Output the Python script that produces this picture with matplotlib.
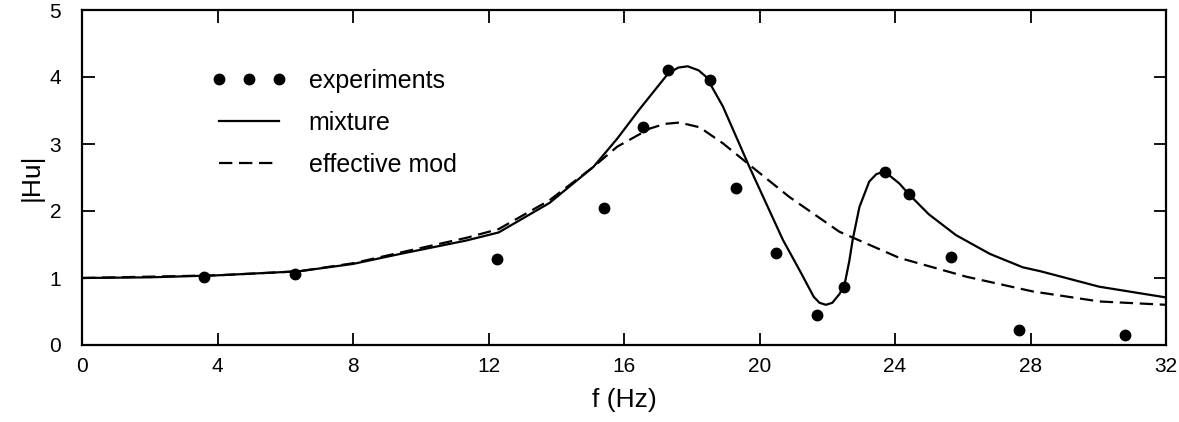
import numpy as np
import matplotlib
matplotlib.use("Agg")
import matplotlib.pyplot as plt

plt.rcParams['font.family'] = ['Liberation Sans', 'DejaVu Sans']

# experiment points
exp_f = [3.6, 6.3, 12.25, 15.4, 16.55, 17.3, 18.55, 19.3, 20.5, 21.7, 22.5,
         23.7, 24.4, 25.65, 27.65, 30.8]
exp_hu = [1.01, 1.06, 1.29, 2.04, 3.26, 4.11, 3.95, 2.35, 1.38, 0.45, 0.87,
          2.58, 2.25, 1.31, 0.23, 0.15]

# mixture (solid curve)
mix_f = [0, 2, 4, 6.4, 8, 9.4, 11.35, 12.3, 13.8, 15.1, 15.8, 16.46, 17.3,
         17.6, 17.88, 18.2, 18.43, 18.92, 19.7, 20.69, 21.2, 21.6, 21.77,
         21.96, 22.15, 22.36, 22.51, 22.65, 22.75, 22.95, 23.24, 23.45, 23.69,
         24.13, 24.41, 25.0, 25.8, 26.8, 27.77, 28.3, 30.03, 32]
mix_hu = [1.0, 1.01, 1.04, 1.1, 1.21, 1.36, 1.56, 1.68, 2.12, 2.66, 3.08,
          3.52, 4.05, 4.14, 4.16, 4.1, 4.0, 3.56, 2.66, 1.57, 1.1, 0.72, 0.63,
          0.6, 0.63, 0.76, 0.9, 1.25, 1.57, 2.06, 2.44, 2.55, 2.59, 2.41, 2.25,
          1.95, 1.64, 1.36, 1.16, 1.1, 0.87, 0.71]

# effective modulus (dashed curve)
eff_f = [0, 4, 6.4, 8, 9.4, 11.35, 12.3, 13.8, 15.1, 15.8, 16.76, 17.2, 17.64,
         18.23, 18.92, 19.7, 20.88, 22.36, 24.13, 26.1, 28.06, 30.03, 32]
eff_hu = [1.0, 1.04, 1.1, 1.22, 1.38, 1.6, 1.73, 2.16, 2.66, 2.96, 3.23, 3.3,
          3.32, 3.25, 3.01, 2.69, 2.21, 1.69, 1.3, 1.02, 0.8, 0.65, 0.6]

xticks = [0, 4, 8, 12, 16, 20, 24, 28, 32]
yticks = [0, 1, 2, 3, 4, 5]

fig = plt.figure(figsize=(11.79, 4.22), dpi=100)
ax = fig.add_axes([82/1179, 1 - 345/422, (1166-82)/1179, (345-10)/422])

ax.plot(exp_f, exp_hu, 'o', color='black', markersize=7.5, label='experiments')
ax.plot(mix_f, mix_hu, '-', color='black', lw=1.6, label='mixture')
ax.plot(eff_f, eff_hu, '--', color='black', lw=1.6, dashes=(6, 3),
        label='effective mod')

ax.set_xlim(0, 32)
ax.set_ylim(0, 5)
ax.set_xticks(xticks)
ax.set_yticks(yticks)
ax.tick_params(direction='in', top=True, right=True, length=9, width=1.3,
               labelsize=15)
ax.tick_params(axis='x', pad=9)
ax.tick_params(axis='y', pad=15)
for s in ax.spines.values():
    s.set_linewidth(1.6)

ax.set_xlabel('f (Hz)', fontsize=19, labelpad=8)
ax.set_ylabel('|Hu|', fontsize=19, labelpad=4)

ax.legend(loc='upper left', bbox_to_anchor=(0.11, 0.855), frameon=False,
          numpoints=3, fontsize=18, handlelength=3.0, handletextpad=0.9,
          labelspacing=0.72, borderaxespad=0)

fig.savefig('out.png', dpi=100)
